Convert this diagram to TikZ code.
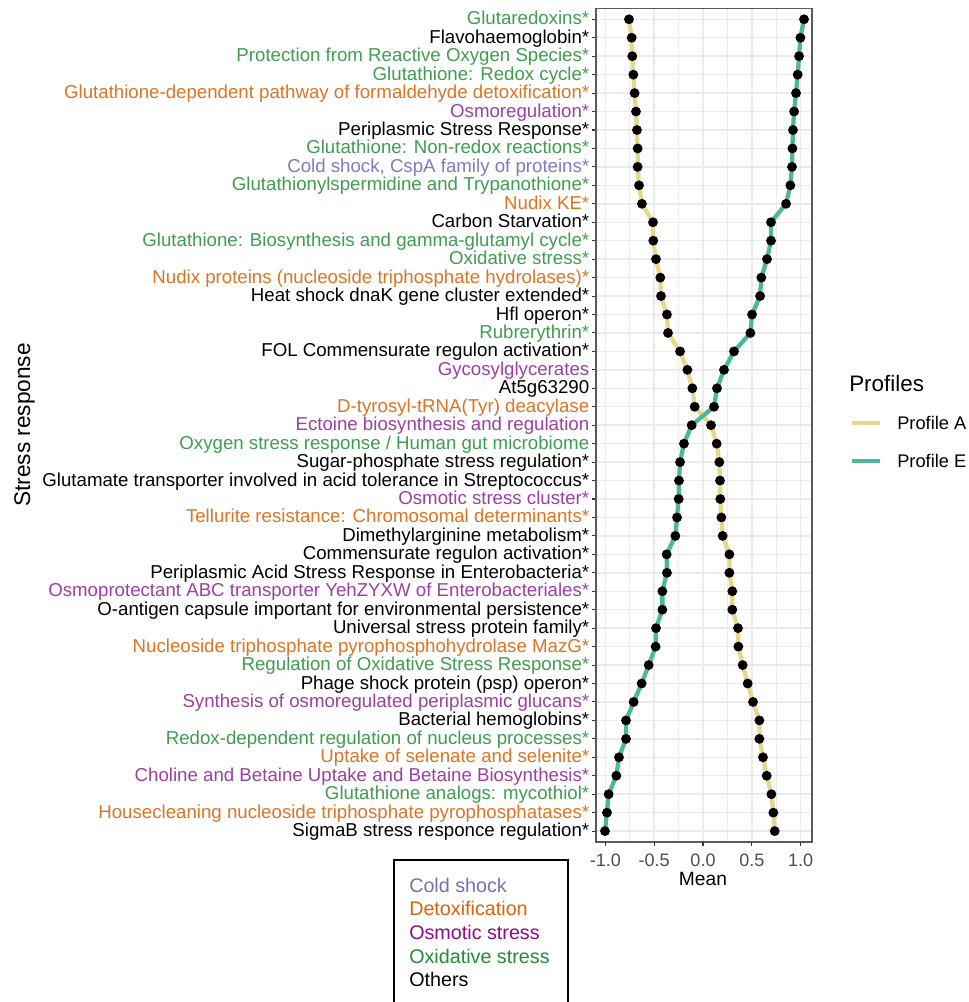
\documentclass[tikz,border=0pt]{standalone}
\usepackage{fontspec}
\setmainfont{Liberation Sans}
\usepackage{xcolor}
\usepackage{tikz}
\usetikzlibrary{positioning}
\definecolor{oxidlab}{HTML}{409C50}
\definecolor{detoxlab}{HTML}{DC7424}
\definecolor{osmolab}{HTML}{9B3FA3}
\definecolor{coldlab}{HTML}{7E7BBF}
\definecolor{oxidkey}{HTML}{228B35}
\definecolor{detoxkey}{HTML}{E0600A}
\definecolor{osmokey}{HTML}{8B0A8B}
\definecolor{coldkey}{HTML}{7570B3}
\definecolor{profileA}{HTML}{E6D88A}
\definecolor{profileE}{HTML}{4BB998}
\definecolor{gridgray}{HTML}{EBEBEB}
\definecolor{axisgray}{HTML}{4D4D4D}
\tikzset{
  % Axis styles
  ylab/.style={anchor=base east, inner sep=0pt, text=#1, font=\fontsize{14}{16}\selectfont},
  ylab/.default={black},
  xlab/.style={anchor=base, inner sep=0pt, text=axisgray, font=\fontsize{13.5}{16}\selectfont},
  axtitle/.style={inner sep=0pt, font=\fontsize{#1}{18}\selectfont},
  tickmark/.style={draw=black!80, line width=0.8pt},
  gridmaj/.style={draw=gridgray, line width=1.1pt},
  gridmin/.style={draw=gridgray, line width=0.55pt},
  panel/.style={draw=black!65, line width=0.9pt},
  % Data styles
  profline/.style={draw=#1, line width=3.2pt, line join=round, line cap=round},
  meanpt/.style={circle, fill=black, inner sep=0pt, minimum size=7.4pt},
  % Legend styles
  keytxt/.style={anchor=west, inner sep=0pt, font=\fontsize{13.7}{16}\selectfont},
  boxtxt/.style={anchor=base west, inner sep=0pt, text=#1, font=\fontsize{14.8}{17}\selectfont},
}

\begin{document}
\begin{tikzpicture}[x=0.75pt, y=-0.75pt]
    \useasboundingbox (0,0) rectangle (969,1002);

    % Rows: grid, ticks and mean positions
    \foreach \i/\va/\ve in {1/-0.758/1.034, 2/-0.730/0.997, 3/-0.724/0.983, 4/-0.713/0.969,
        5/-0.700/0.952, 6/-0.686/0.932, 7/-0.676/0.921, 8/-0.669/0.915, 9/-0.669/0.911,
        10/-0.655/0.894, 11/-0.625/0.850, 12/-0.512/0.696, 13/-0.509/0.696, 14/-0.481/0.655,
        15/-0.437/0.597, 16/-0.430/0.584, 17/-0.369/0.502, 18/-0.358/0.485, 19/-0.235/0.317,
        20/-0.160/0.215, 21/-0.109/0.143, 22/-0.085/0.113, 23/0.082/-0.116, 24/0.140/-0.195,
        25/0.167/-0.235, 26/0.174/-0.246, 27/0.177/-0.249, 28/0.188/-0.266, 29/0.201/-0.283,
        30/0.270/-0.372, 31/0.270/-0.369, 32/0.300/-0.416, 33/0.300/-0.416, 34/0.358/-0.481,
        35/0.362/-0.485, 36/0.406/-0.556, 37/0.457/-0.628, 38/0.512/-0.710, 39/0.577/-0.788,
        40/0.577/-0.788, 41/0.614/-0.860, 42/0.652/-0.887, 43/0.700/-0.966, 44/0.720/-0.983,
        45/0.734/-1.003} {
      \pgfmathsetmacro{\ry}{19.3+18.45*(\i-1)}
      \draw[gridmaj] (596,\ry) -- (812,\ry);
      \draw[tickmark] (592,\ry) -- (596,\ry);
      \coordinate (a\i) at ({703+97.7*(\va)},\ry);
      \coordinate (e\i) at ({703+97.7*(\ve)},\ry);
      \coordinate (r\i) at (589.5,\ry+5.5);
    }

    % Vertical grid
    \foreach \v in {-0.75,-0.25,0.25,0.75}
      \draw[gridmin] ({703+97.7*(\v)},8.2) -- ({703+97.7*(\v)},842);
    \foreach \v in {-1,-0.5,0,0.5,1}
      \draw[gridmaj] ({703+97.7*(\v)},8.2) -- ({703+97.7*(\v)},842);

    % Profiles
    \draw[profline=profileA] (a1) \foreach \i in {2,...,45} { -- (a\i) };
    \draw[profline=profileE] (e1) \foreach \i in {2,...,45} { -- (e\i) };
    \foreach \i in {1,...,45} {
      \node[meanpt] (pa\i) at (a\i) {};
      \node[meanpt] (pe\i) at (e\i) {};
    }

    % Panel
    \draw[panel] (596,8.2) rectangle (812,842);

    % x axis
    \foreach \v/\t [count=\k] in {-1/-1.0,-0.5/-0.5,0/0.0,0.5/0.5,1/1.0} {
      \draw[tickmark] ({703+97.7*(\v)},842) -- ({703+97.7*(\v)},846);
      \node[xlab] (xtick\k) at ({703+97.7*(\v)},866) {\t};
    }
    \node[axtitle=14.4, anchor=base] (xtitle) at (703,885) {Mean};
    \node[axtitle=17, anchor=base, rotate=90] (ytitle) at (30,425) {Stress response};

    % Stress responses
    \node[ylab=oxidlab] (lab1) at (r1) {Glutaredoxins*};
    \node[ylab] (lab2) at (r2) {Flavohaemoglobin*};
    \node[ylab=oxidlab] (lab3) at (r3) {Protection from Reactive Oxygen Species*};
    \node[ylab=oxidlab] (lab4) at (r4) {Glutathione: Redox cycle*};
    \node[ylab=detoxlab] (lab5) at (r5) {Glutathione-dependent pathway of formaldehyde detoxification*};
    \node[ylab=osmolab] (lab6) at (r6) {Osmoregulation*};
    \node[ylab] (lab7) at (r7) {Periplasmic Stress Response*};
    \node[ylab=oxidlab] (lab8) at (r8) {Glutathione: Non-redox reactions*};
    \node[ylab=coldlab] (lab9) at (r9) {Cold shock, CspA family of proteins*};
    \node[ylab=oxidlab] (lab10) at (r10) {Glutathionylspermidine and Trypanothione*};
    \node[ylab=detoxlab] (lab11) at (r11) {Nudix KE*};
    \node[ylab] (lab12) at (r12) {Carbon Starvation*};
    \node[ylab=oxidlab] (lab13) at (r13) {Glutathione: Biosynthesis and gamma-glutamyl cycle*};
    \node[ylab=oxidlab] (lab14) at (r14) {Oxidative stress*};
    \node[ylab=detoxlab] (lab15) at (r15) {Nudix proteins (nucleoside triphosphate hydrolases)*};
    \node[ylab] (lab16) at (r16) {Heat shock dnaK gene cluster extended*};
    \node[ylab] (lab17) at (r17) {Hfl operon*};
    \node[ylab=oxidlab] (lab18) at (r18) {Rubrerythrin*};
    \node[ylab] (lab19) at (r19) {FOL Commensurate regulon activation*};
    \node[ylab=osmolab] (lab20) at (r20) {Gycosylglycerates};
    \node[ylab] (lab21) at (r21) {At5g63290};
    \node[ylab=detoxlab] (lab22) at (r22) {D-tyrosyl-tRNA(Tyr) deacylase};
    \node[ylab=osmolab] (lab23) at (r23) {Ectoine biosynthesis and regulation};
    \node[ylab=oxidlab] (lab24) at (r24) {Oxygen stress response / Human gut microbiome};
    \node[ylab] (lab25) at (r25) {Sugar-phosphate stress regulation*};
    \node[ylab] (lab26) at (r26) {Glutamate transporter involved in acid tolerance in Streptococcus*};
    \node[ylab=osmolab] (lab27) at (r27) {Osmotic stress cluster*};
    \node[ylab=detoxlab] (lab28) at (r28) {Tellurite resistance: Chromosomal determinants*};
    \node[ylab] (lab29) at (r29) {Dimethylarginine metabolism*};
    \node[ylab] (lab30) at (r30) {Commensurate regulon activation*};
    \node[ylab] (lab31) at (r31) {Periplasmic Acid Stress Response in Enterobacteria*};
    \node[ylab=osmolab] (lab32) at (r32) {Osmoprotectant ABC transporter YehZYXW of Enterobacteriales*};
    \node[ylab] (lab33) at (r33) {O-antigen capsule important for environmental persistence*};
    \node[ylab] (lab34) at (r34) {Universal stress protein family*};
    \node[ylab=detoxlab] (lab35) at (r35) {Nucleoside triphosphate pyrophosphohydrolase MazG*};
    \node[ylab=oxidlab] (lab36) at (r36) {Regulation of Oxidative Stress Response*};
    \node[ylab] (lab37) at (r37) {Phage shock protein (psp) operon*};
    \node[ylab=osmolab] (lab38) at (r38) {Synthesis of osmoregulated periplasmic glucans*};
    \node[ylab] (lab39) at (r39) {Bacterial hemoglobins*};
    \node[ylab=oxidlab] (lab40) at (r40) {Redox-dependent regulation of nucleus processes*};
    \node[ylab=detoxlab] (lab41) at (r41) {Uptake of selenate and selenite*};
    \node[ylab=osmolab] (lab42) at (r42) {Choline and Betaine Uptake and Betaine Biosynthesis*};
    \node[ylab=oxidlab] (lab43) at (r43) {Glutathione analogs: mycothiol*};
    \node[ylab=detoxlab] (lab44) at (r44) {Housecleaning nucleoside triphosphate pyrophosphatases*};
    \node[ylab] (lab45) at (r45) {SigmaB stress responce regulation*};

    % Profiles legend
    \node[axtitle=16.8, anchor=base west] (legtitle) at (849,391.5) {Profiles};
    \draw[profline=profileA, line cap=butt] (852,423) -- (880,423);
    \node[keytxt] (keyA) at (897,423) {Profile A};
    \draw[profline=profileE, line cap=butt] (852,461) -- (880,461);
    \node[keytxt] (keyE) at (897,461) {Profile E};

    % Category box
    \draw[line width=1.5pt] (394,1003) |- (568,860) -- (568,1003);
    \node[boxtxt=coldkey] (catcold) at (409,892.3) {Cold shock};
    \node[boxtxt=detoxkey] (catdetox) at (409,915.9) {Detoxification};
    \node[boxtxt=osmokey] (catosmo) at (409,939.5) {Osmotic stress};
    \node[boxtxt=oxidkey] (catoxid) at (409,963.1) {Oxidative stress};
    \node[boxtxt=black] (catother) at (409,986.7) {Others};
  \end{tikzpicture}
\end{document}
